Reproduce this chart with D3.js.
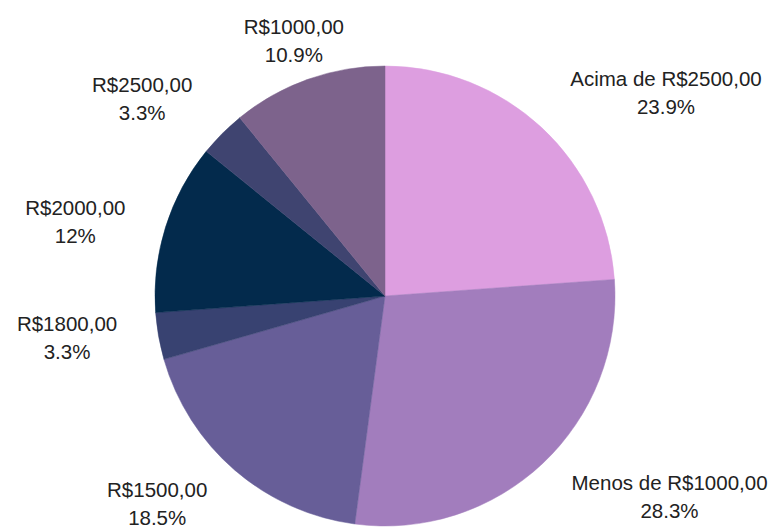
<!DOCTYPE html>
<html>
<head>
<meta charset="utf-8">
<script src="https://cdn.jsdelivr.net/npm/d3@7"></script>
<style>
  html, body { margin: 0; padding: 0; background: #fff; }
  svg text { font-family: "Liberation Sans", Arial, sans-serif; fill: #222; }
</style>
</head>
<body>
<div id="chart"></div>
<script>
// faixas salariais, clockwise from 12 o'clock
const categories = ["Acima de R$2500,00", "Menos de R$1000,00", "R$1500,00", "R$1800,00", "R$2000,00", "R$2500,00", "R$1000,00"];
const values = [23.9, 28.3, 18.5, 3.3, 12, 3.3, 10.9];
const valueLabels = ["23.9%", "28.3%", "18.5%", "3.3%", "12%", "3.3%", "10.9%"];
const colors = ["#dd9ee0", "#a27dbd", "#675e98", "#384271", "#032a4c", "#3f4470", "#7d638c"];

const width = 777, height = 527;
const cx = 385, cy = 296, radius = 230;

const data = categories.map((c, i) => ({ name: c, value: values[i], label: valueLabels[i], color: colors[i] }));

const svg = d3.select("#chart")
    .append("svg")
    .attr("width", width)
    .attr("height", height);

const g = svg.append("g")
    .attr("transform", "translate(" + cx + "," + cy + ")");

const pie = d3.pie().sort(null).value(d => d.value);
const arc = d3.arc().innerRadius(0).outerRadius(radius);
const arcs = pie(data);

g.selectAll("path")
    .data(arcs)
  .enter().append("path")
    .attr("d", arc)
    .style("fill", d => d.data.color)
    .style("stroke", d => d.data.color)
    .style("stroke-width", 0.5);

// labels sit outside the pie, aligned away from it
const rx = 272, ry = 246, lineGap = 28, capH = 15, descent = 2;
const side = v => v > 0.38 ? 1 : (v < -0.38 ? -1 : 0);

const labels = g.selectAll(".lbl")
    .data(arcs)
  .enter().append("text")
    .attr("class", "lbl")
    .style("font-size", "20.5px")
    .each(function(d) {
        const a = (d.startAngle + d.endAngle) / 2;
        const s = Math.sin(a), c = -Math.cos(a);
        const px = s * rx, py = c * ry;
        const sx = side(s), sy = side(c);
        let base1;
        if (sy < 0) base1 = py - descent - lineGap;
        else if (sy > 0) base1 = py + capH;
        else base1 = py - (lineGap + capH + descent) / 2 + capH;
        const anchor = sx > 0 ? "start" : (sx < 0 ? "end" : "middle");
        const t = d3.select(this).attr("text-anchor", anchor);
        t.append("tspan").attr("x", px).attr("y", base1).text(d.data.name);
        t.append("tspan").attr("class", "pct").attr("y", base1 + lineGap).text(d.data.label);
    });

// centre percentage line under its name line
labels.each(function() {
    const t = d3.select(this);
    const bb = t.select("tspan").node().getBBox();
    t.select(".pct").attr("x", bb.x + bb.width / 2).attr("text-anchor", "middle");
});
</script>
</body>
</html>
